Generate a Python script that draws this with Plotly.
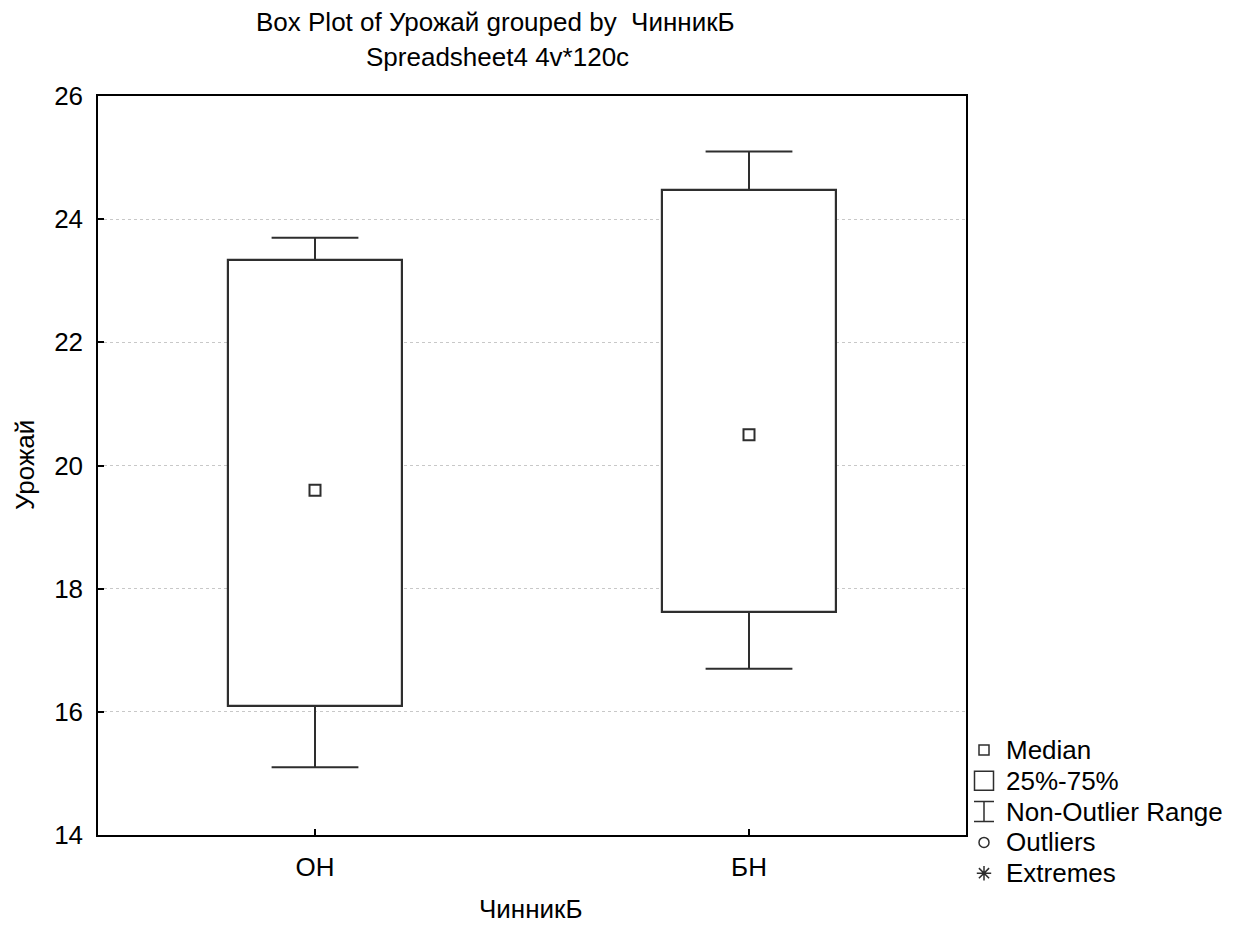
import plotly.graph_objects as go

# ---- data ----
categories = ["ОН", "БН"]
q1 = [16.1, 17.62]
median = [19.6, 20.5]
q3 = [23.33, 24.48]
lower = [15.1, 16.7]
upper = [23.7, 25.1]

legend_labels = ["Median", "25%-75%", "Non-Outlier Range", "Outliers", "Extremes"]

y_ticks = [14, 16, 18, 20, 22, 24, 26]

# ---- style ----
OFF = 8  # page body margin
W, H = 1242 - OFF, 925 - OFF
ML, MR, MT, MB = 98 - OFF, 0, 96 - OFF, 20
plot_w, plot_h = 868, 739
paper_w, paper_h = W - ML - MR, H - MT - MB
FONT = "Liberation Sans, Arial, sans-serif"
LC = "#2e2e2e"
FS = 26
BOX_W = 0.4
CAP = 0.1


def px_x(px):
    return (px - OFF - ML) / paper_w


def px_y(py):
    return (paper_h + MT - (py - OFF)) / paper_h


xpos = list(range(len(categories)))

fig = go.Figure()

# boxes (25%-75%)
fig.add_trace(go.Bar(
    x=xpos, y=[b - a for a, b in zip(q1, q3)], base=q1, width=BOX_W,
    marker=dict(color="white", line=dict(color=LC, width=2.2)),
    showlegend=False, hoverinfo="skip"))

# whiskers (non-outlier range) built from the data arrays
wx, wy = [], []
for i in xpos:
    wx += [i, i, None, i - CAP, i + CAP, None, i, i, None, i - CAP, i + CAP, None]
    wy += [q3[i], upper[i], None, upper[i], upper[i], None,
           q1[i], lower[i], None, lower[i], lower[i], None]
fig.add_trace(go.Scatter(x=wx, y=wy, mode="lines", line=dict(color=LC, width=2),
                         showlegend=False, hoverinfo="skip"))

# medians
fig.add_trace(go.Scatter(
    x=xpos, y=median, mode="markers",
    marker=dict(symbol="square-open", size=11, color=LC, line=dict(width=2, color=LC)),
    showlegend=False))

# ---- custom legend on an auxiliary axis (pixel-like units) ----
plot_right = 98 + plot_w
leg_x_sym = 984 - plot_right
leg_x_txt = 1004 - plot_right
leg_y0 = 750 - 96
leg_step = 30.8
leg_y = [leg_y0 + i * leg_step for i in range(len(legend_labels))]

sym_specs = [("square-open", 10), ("square-open", 19), (None, 0), ("circle-open", 10), ("asterisk-open", 12)]
for i, (sym, sz) in enumerate(sym_specs):
    if sym is None:
        fig.add_trace(go.Scatter(
            x=[leg_x_sym], y=[leg_y[i]], xaxis="x2", yaxis="y2", mode="markers",
            marker=dict(size=1, color="rgba(0,0,0,0)"),
            error_y=dict(type="data", array=[10], width=10, thickness=1.5, color=LC),
            showlegend=False, hoverinfo="skip", cliponaxis=False))
    else:
        fig.add_trace(go.Scatter(
            x=[leg_x_sym], y=[leg_y[i]], xaxis="x2", yaxis="y2", mode="markers",
            marker=dict(symbol=sym, size=sz, color=LC, line=dict(width=1.5, color=LC)),
            showlegend=False, hoverinfo="skip", cliponaxis=False))
    fig.add_annotation(x=leg_x_txt, y=leg_y[i], xref="x2", yref="y2", text=legend_labels[i],
                       showarrow=False, xanchor="left", yanchor="middle",
                       font=dict(size=FS, color="black", family=FONT))

dom_x = plot_w / paper_w
dom_y0 = (paper_h - plot_h) / paper_h

fig.update_layout(
    width=W, height=H,
    margin=dict(l=ML, r=MR, t=MT, b=MB),
    paper_bgcolor="white", plot_bgcolor="white",
    font=dict(family=FONT, size=FS, color="black"),
    showlegend=False,
    xaxis=dict(domain=[0, dom_x], range=[-0.5, 1.5], tickvals=xpos, ticktext=categories,
               showgrid=False, zeroline=False, showline=True, linecolor="black", linewidth=1.5,
               mirror=True, ticks="inside", ticklen=6, tickcolor="black", tickwidth=1.5,
               ticklabelstandoff=8, fixedrange=True),
    yaxis=dict(domain=[dom_y0, 1], range=[14, 26], tickvals=y_ticks,
               showgrid=True, gridcolor="#c8c8c8", griddash="dot", gridwidth=1,
               zeroline=False, showline=True, linecolor="black", linewidth=1.5,
               mirror=True, ticks="inside", ticklen=6, tickcolor="black", tickwidth=1.5,
               ticklabelstandoff=8, fixedrange=True),
    xaxis2=dict(domain=[dom_x, 1], range=[0, W - ML - plot_w], visible=False, anchor="y2",
                fixedrange=True),
    yaxis2=dict(domain=[0, 1], range=[paper_h, 0], visible=False, anchor="x2", fixedrange=True),
    bargap=0,
)

# titles
fig.add_annotation(x=px_x(495), y=px_y(22), xref="paper", yref="paper",
                   text="Box Plot of Урожай grouped by  ЧинникБ", showarrow=False,
                   xanchor="center", yanchor="middle", font=dict(size=FS, family=FONT))
fig.add_annotation(x=px_x(497), y=px_y(57), xref="paper", yref="paper",
                   text="Spreadsheet4 4v*120c", showarrow=False,
                   xanchor="center", yanchor="middle", font=dict(size=FS, family=FONT))
fig.add_annotation(x=px_x(531), y=px_y(909), xref="paper", yref="paper",
                   text="ЧинникБ", showarrow=False, xanchor="center", yanchor="middle",
                   font=dict(size=FS, family=FONT))
fig.add_annotation(x=px_x(25), y=px_y(465), xref="paper", yref="paper",
                   text="Урожай", showarrow=False, textangle=-90, xanchor="center", yanchor="middle",
                   font=dict(size=FS, family=FONT))

fig.write_html("out.html")
